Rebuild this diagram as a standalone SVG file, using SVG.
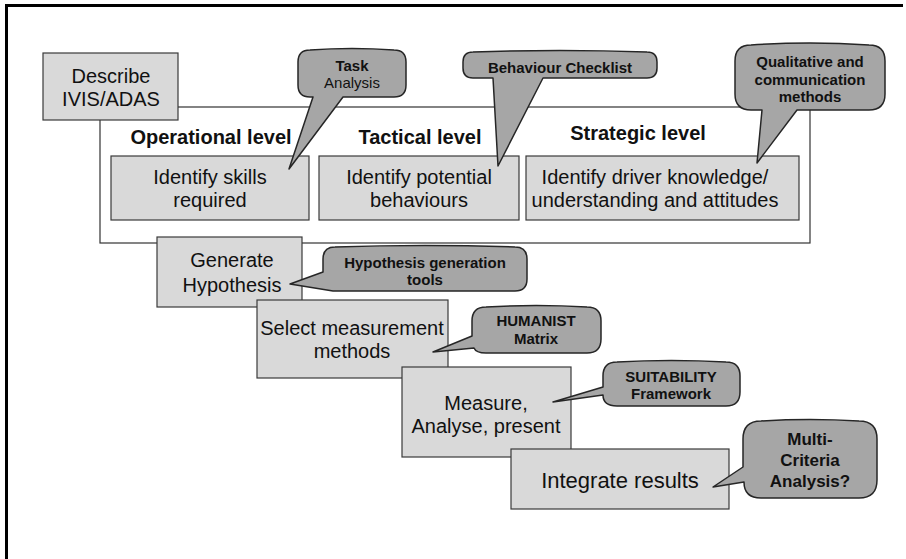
<svg xmlns="http://www.w3.org/2000/svg" width="906" height="559" viewBox="0 0 906 559">
<style>
.box{fill:#d9d9d9;stroke:#3a3a3a;stroke-width:1.2}
.call{fill:#a6a6a6;stroke:#262626;stroke-width:1.5;stroke-linejoin:round}
.t{font-family:"Liberation Sans",Arial,sans-serif;font-size:20px;fill:#111;text-anchor:middle}
.h{font-family:"Liberation Sans",Arial,sans-serif;font-size:20px;font-weight:bold;fill:#111;text-anchor:middle}
.c{font-family:"Liberation Sans",Arial,sans-serif;font-size:15px;font-weight:bold;fill:#111;text-anchor:middle}
.cr{font-family:"Liberation Sans",Arial,sans-serif;font-size:15px;fill:#111;text-anchor:middle}
</style>
<rect width="906" height="559" fill="#fff"/>
<g id="frame">
<line x1="5" y1="5.5" x2="903" y2="5.5" stroke="#000" stroke-width="3"/>
<line x1="6.5" y1="4" x2="6.5" y2="559" stroke="#000" stroke-width="3"/>
</g>
<g id="levels">
<rect x="100" y="107" width="710" height="136" fill="#fff" stroke="#333" stroke-width="1.2"/>
<text class="h" x="211" y="144">Operational level</text>
<text class="h" x="420" y="144">Tactical level</text>
<text class="h" x="638" y="140">Strategic level</text>
</g>
<g id="describe">
<rect class="box" x="43" y="53" width="135" height="67"/>
<text class="t" x="111" y="83">Describe</text>
<text class="t" x="111" y="106">IVIS/ADAS</text>
</g>
<g id="skills">
<rect class="box" x="111" y="156" width="198" height="64"/>
<text class="t" x="210" y="184">Identify skills</text>
<text class="t" x="210" y="207">required</text>
</g>
<g id="behaviours">
<rect class="box" x="319" y="156" width="200" height="64"/>
<text class="t" x="419" y="184">Identify potential</text>
<text class="t" x="419" y="207">behaviours</text>
</g>
<g id="knowledge">
<rect class="box" x="526" y="156" width="273" height="64"/>
<text class="t" x="655" y="184">Identify driver knowledge/</text>
<text class="t" x="655" y="207">understanding and attitudes</text>
</g>
<g id="generate">
<rect class="box" x="157" y="237" width="145" height="70"/>
<text class="t" x="232" y="267">Generate</text>
<text class="t" x="232" y="292">Hypothesis</text>
</g>
<g id="select">
<rect class="box" x="257" y="300" width="191" height="78"/>
<text class="t" x="352" y="335">Select measurement</text>
<text class="t" x="352" y="358">methods</text>
</g>
<g id="measure">
<rect class="box" x="402" y="367" width="169" height="90"/>
<text class="t" x="486" y="410">Measure,</text>
<text class="t" x="486" y="433">Analyse, present</text>
</g>
<g id="integrate">
<rect class="box" x="511" y="449" width="218" height="60"/>
<text class="t" x="620" y="488" style="font-size:22px">Integrate results</text>
</g>
<g id="connectors">
<g id="task-callout">
<path class="call" d="M310,50 Q352,47 394,50 Q406,50 406,62 L406,85 Q406,97 394,97 L343,97 L289,169 L313,97 L310,97 Q298,97 298,85 L298,62 Q298,50 310,50 Z"/>
<text class="c" x="352" y="71">Task</text>
<text class="cr" x="352" y="88">Analysis</text>
</g>
<g id="checklist-callout">
<path class="call" d="M473,52 Q560,49 647,52 Q657,52 657,62 L657,68 Q657,78 647,78 L543,78 L498,166 L493,78 L473,78 Q463,78 463,68 L463,62 Q463,52 473,52 Z"/>
<text class="c" x="560" y="73">Behaviour Checklist</text>
</g>
<g id="qualitative-callout">
<path class="call" d="M751,45 Q810,41 869,45 Q885,45 885,61 L885,94 Q885,110 869,110 L797,110 L757,163 L762,110 L751,110 Q735,110 735,94 L735,61 Q735,45 751,45 Z"/>
<text class="c" x="810" y="67">Qualitative and</text>
<text class="c" x="810" y="85">communication</text>
<text class="c" x="810" y="102">methods</text>
</g>
<g id="hypothesis-callout">
<path class="call" d="M335,247 Q425,244 515,247 Q527,247 527,259 L527,279 Q527,291 515,291 L333,291 L290,284 L323,272 L323,259 Q323,247 335,247 Z"/>
<text class="c" x="425" y="268">Hypothesis generation</text>
<text class="c" x="425" y="285">tools</text>
</g>
<g id="humanist-callout">
<path class="call" d="M486,307 Q536,304 587,307 Q601,307 601,321 L601,339 Q601,353 587,353 L486,353 Q476,353 474,348 L433,352 L472,336 L472,321 Q472,307 486,307 Z"/>
<text class="c" x="536" y="326">HUMANIST</text>
<text class="c" x="536" y="344">Matrix</text>
</g>
<g id="suitability-callout">
<path class="call" d="M617,362 Q671,359 726,362 Q740,362 740,376 L740,392 Q740,406 726,406 L617,406 Q603,406 603,395 L553,402 L603,387 L603,376 Q603,362 617,362 Z"/>
<text class="c" x="671" y="382">SUITABILITY</text>
<text class="c" x="671" y="399">Framework</text>
</g>
<g id="mca-callout">
<path class="call" d="M761,421 Q810,418 859,421 Q877,421 877,439 L877,480 Q877,498 859,498 L761,498 Q744,498 744,482 L713,487 L743,467 L743,439 Q743,421 761,421 Z"/>
<text class="c" x="810" y="445" style="font-size:17px">Multi-</text>
<text class="c" x="810" y="466" style="font-size:17px">Criteria</text>
<text class="c" x="810" y="487" style="font-size:17px">Analysis?</text>
</g>
</g>
</svg>
